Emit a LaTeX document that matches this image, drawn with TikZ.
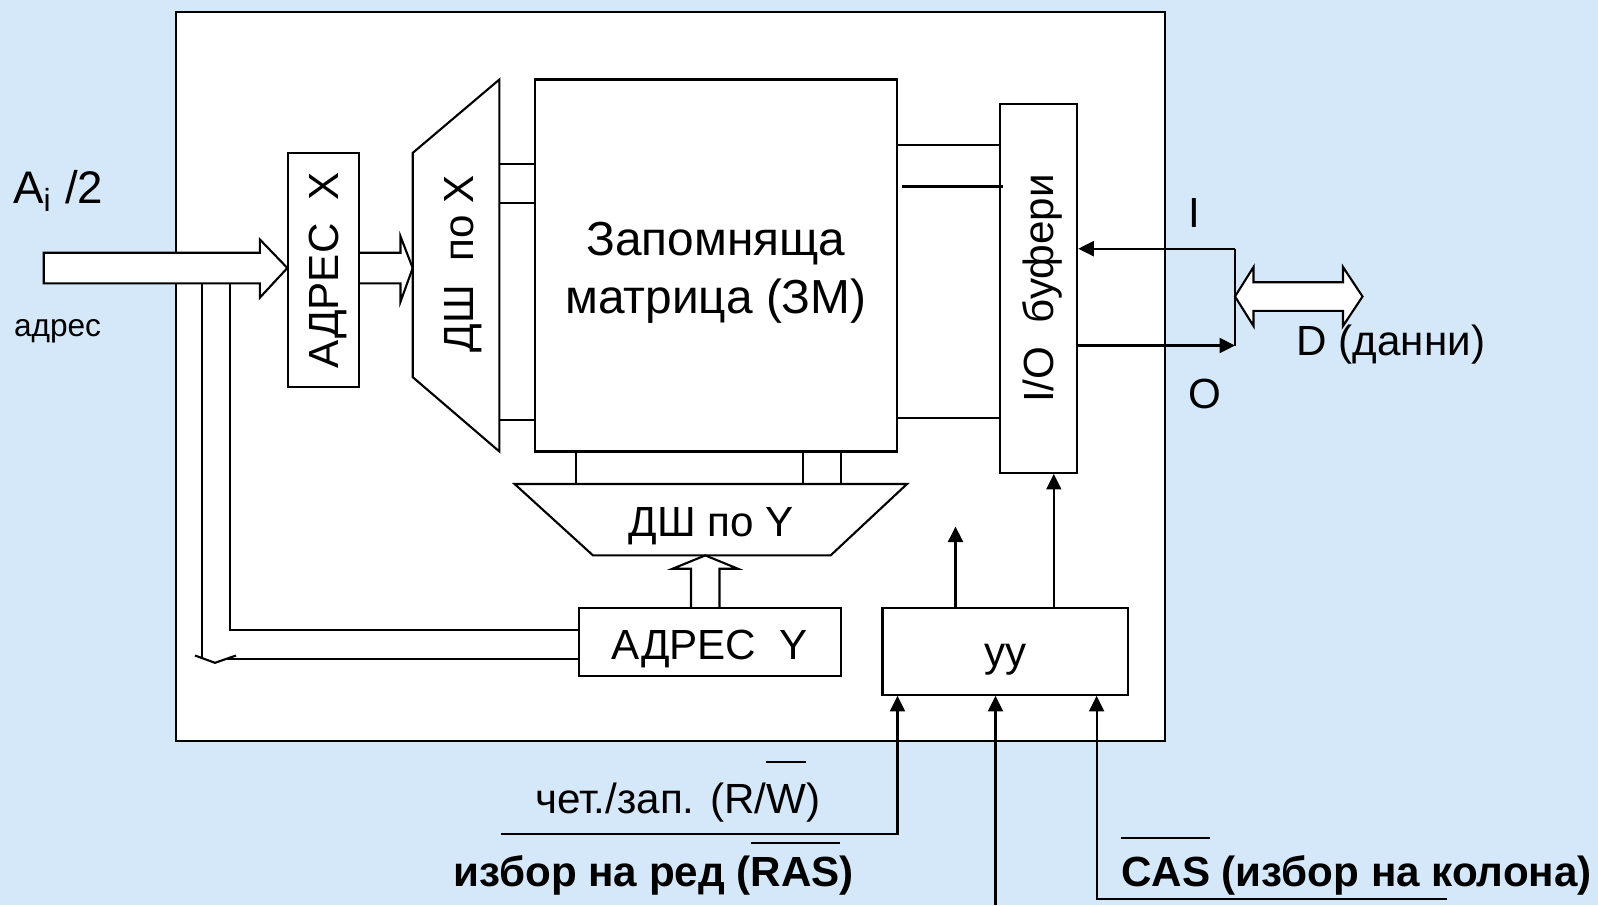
\documentclass[tikz,border=0pt]{standalone}
\usepackage{fontspec}
\setmainfont{Liberation Sans}
\usepackage{graphicx}
\usetikzlibrary{arrows.meta,positioning,calc}
\definecolor{bgblue}{RGB}{213,232,250}
\newcommand{\inv}[2][1.5pt]{\vbox{\hrule height 0.6pt\kern#1\hbox{#2}}}
\newcommand{\ps}[1][.905em]{\rule[-.212em]{0pt}{\dimexpr#1+.212em\relax}}

\begin{document}
\begin{tikzpicture}[x=0.1mm, y=-0.1mm,
  box/.style={draw, fill=white, line width=0.6pt, inner sep=0pt, font=\fontsize{12}{14}\selectfont},
  lbl/.style={font=\fontsize{12}{14}\selectfont},
  bld/.style={font=\fontsize{12}{14}\selectfont\bfseries},
  pipe/.style={draw, fill=white, line width=0.6pt},
  wire/.style={line width=0.6pt},
  arr/.style={line width=0.6pt, -{Triangle[length=1.55mm, width=1.5mm]}}
]
  \fill[bgblue] (0,0) rectangle (1598,905);
  \useasboundingbox (0,0) rectangle (1598,905);

  \node[box, minimum width=98.85mm, minimum height=72.87mm] (chip) at (670.55,376.55) {};

  \node[box, minimum width=7.03mm, minimum height=23.44mm] (adrx) at (323.55,270.1) {\rotatebox{90}{\ps АДРЕС\ \ X}};
  \node[box, minimum width=36.18mm, minimum height=37.2mm, align=center, font=\fontsize{13.6}{16.5}\selectfont] (mat) at (715.9,265.5) {\ps[1.02em]Запомняща\\\ps матрица (ЗМ)};
  \node[box, minimum width=7.75mm, minimum height=36.89mm] (io) at (1038.45,288.45) {\rotatebox{90}{\ps I/O\ \ буфери}};
  \node[box, minimum width=26.2mm, minimum height=6.73mm] (adry) at (709.8,642.05) {\ps[1.05em]АДРЕС\ \ Y};
  \node[box, minimum width=24.56mm, minimum height=8.64mm] (uu) at (1005.3,651.6) {\ps уу};

  \draw[pipe] (412.7,152.9) coordinate (dxw) -- (499.4,79.5) coordinate (dxe) -- (499.4,451.5) -- (412.7,377.1) -- cycle;
  \node[lbl, rotate=90] (dshx) at (459,264) {\ps ДШ\ \ по X};
  \draw[pipe] (514.6,484) coordinate (dyn) -- (907,484) -- (830.6,555.4) -- (593,555.4) coordinate (dys) -- cycle;
  \node[lbl] (dshy) at (711,522) {\ps ДШ по Y};

  \foreach \y in {164,202.8,419.9}
    \draw[wire] (dxe |- 0,\y) -- (mat.west |- 0,\y);
  \foreach \x in {575.8,803,840.8}
    \draw[wire] (mat.south -| \x,0) -- (dyn -| \x,0);
  \foreach \y in {144.7,417.8}
    \draw[wire] (mat.east |- 0,\y) -- (io.west |- 0,\y);
  \draw[wire] ([xshift=0.4mm]mat.east |- 0,186.5) -- ([xshift=0.4mm]io.west |- 0,186.5);

  % address bus
  \draw[pipe] (43.8,252.7) -- (259.9,252.7) -- (259.9,239.5) -- (adrx.west |- 0,268) -- (259.9,297.6) -- (259.9,283.3) -- (43.8,283.3) -- cycle;
  \draw[wire] (adrx.east |- 0,252.7) -- (400.5,252.7) -- (400.5,236.4) -- (dxw |- 0,268) -- (400.5,301.7) -- (400.5,283.3) -- (adrx.east |- 0,283.3);
  \draw[wire] (201.8,283.3) -- (201.8,656.5);
  \draw[wire] (195,655.5) -- (215,662.8) -- (236,655.5);
  \draw[wire] (230.3,283.3) |- (adry.west |- 0,629.8);
  \draw[wire] (225,659.4) -- (adry.west |- 0,659.4);
  \draw[wire] (adry.north -| 691,0) -- (691,568.7) -- (672.6,568.7) -- (dys -| 705.3,0) -- (737.8,568.7) -- (719.5,568.7) -- (adry.north -| 719.5,0);

  % data lines
  \coordinate (ij) at (1235,248.7);
  \coordinate (oj) at (1235,345.5);
  \draw[arr] (ij) -- (io.east |- ij);
  \draw[wire] (ij) -- (oj);
  \draw[arr] (io.east |- oj) -- (oj);
  \draw[pipe] (1235,296.5) -- (1253.5,267) -- (1253.5,282.2) -- (1343,282.2) -- (1343,267) -- (1362.5,296.5) -- (1343,326) -- (1343,310.8) -- (1253.5,310.8) -- (1253.5,326) -- cycle;

  \coordinate (up) at (955.5,526.5);
  \draw[arr] (uu.north -| up) -- (up);
  \coordinate (ctl) at (1053.8,0);
  \draw[arr] (uu.north -| ctl) -- (io.south -| ctl);

  % control inputs
  \coordinate (rw) at (501.4,833.6);
  \coordinate (rwc) at (897.5,833.6);
  \draw[arr] (rw) -- (rwc) -- (uu.south -| rwc);
  \coordinate (ras) at (995.5,905);
  \draw[arr] (ras) -- (uu.south -| ras);
  \coordinate (cas) at (1447,898.8);
  \coordinate (casc) at (1096.6,898.8);
  \draw[arr] (cas) -- (casc) -- (uu.south -| casc);

  \node[font=\fontsize{13}{15}\selectfont, anchor=base west, inner sep=0pt] (lai) at (12.5,203) {A\textsubscript{i} /2};
  \node[font=\fontsize{9}{11}\selectfont, anchor=base west, inner sep=0pt] (lad) at (13.3,336.7) {адрес};
  \node[lbl] (li) at (1194,213) {I};
  \node[lbl] (lo) at (1204.5,394) {O};
  \node[lbl, anchor=west, inner sep=0pt] (ld) at (1296,344.5) {D (данни)};
  \node[lbl, anchor=base] (lrw) at (677.7,813) {чет./зап. (R/\inv[6pt]{W})};
  \node[bld, anchor=base] (lras) at (653.7,886) {избор на ред (\inv[3.5pt]{RAS})};
  \node[bld, anchor=base] (lcas) at (1356.5,886) {\inv[4.9pt]{CAS} (избор на колона)};
\end{tikzpicture}
\end{document}
